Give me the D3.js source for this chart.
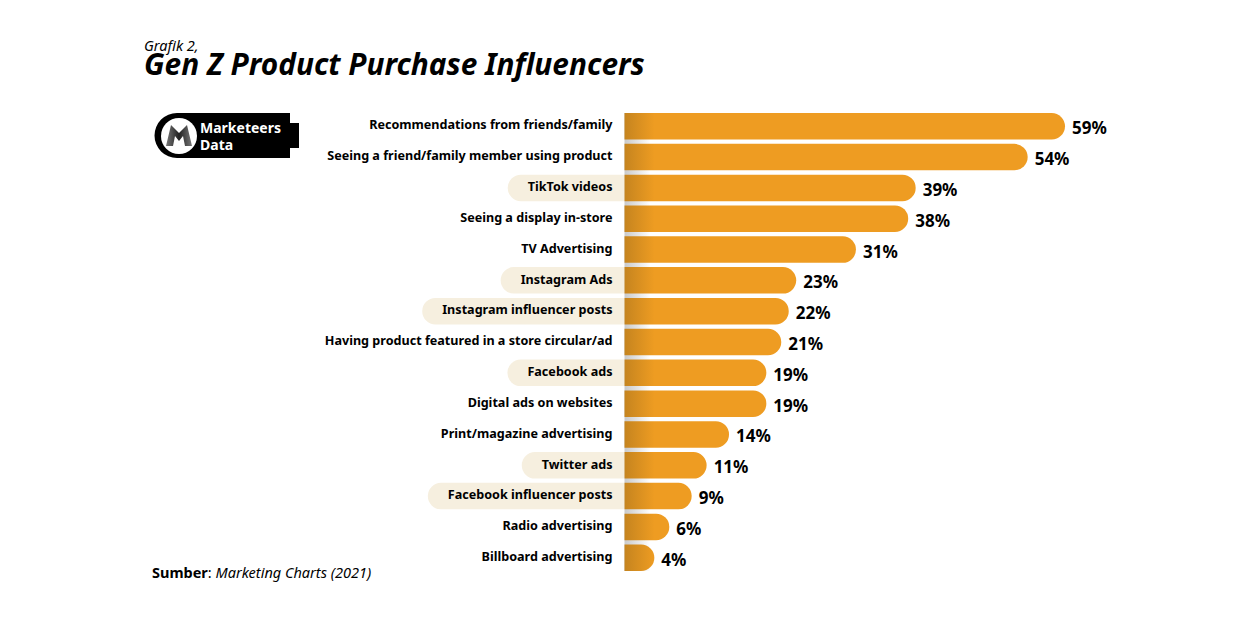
<!DOCTYPE html>
<html>
<head>
<meta charset="utf-8">
<script src="https://cdn.jsdelivr.net/npm/d3@7"></script>
<style>
  html, body { margin: 0; background: #fff; }
  svg { display: block; }
  text { font-family: "Noto Sans", sans-serif; fill: #000; }
</style>
</head>
<body>
<svg id="chart" width="1250" height="625"></svg>
<script>
const categories = [
  "Recommendations from friends/family",
  "Seeing a friend/family member using product",
  "TikTok videos",
  "Seeing a display in-store",
  "TV Advertising",
  "Instagram Ads",
  "Instagram influencer posts",
  "Having product featured in a store circular/ad",
  "Facebook ads",
  "Digital ads on websites",
  "Print/magazine advertising",
  "Twitter ads",
  "Facebook influencer posts",
  "Radio advertising",
  "Billboard advertising"
];
const values = [59, 54, 39, 38, 31, 23, 22, 21, 19, 19, 14, 11, 9, 6, 4];
const socialCategories = [
  "TikTok videos", "Instagram Ads", "Instagram influencer posts",
  "Facebook ads", "Twitter ads", "Facebook influencer posts"
];

const svg = d3.select("#chart");
const x0 = 624.5;

const x = d3.scaleLinear().domain([0, 59]).range([x0, 1065]);
const y = d3.scaleBand().domain(categories).range([113, 571]).paddingInner(0.14);

// gradient for the dark left edge of the bars
const defs = svg.append("defs");
const grad = defs.append("linearGradient")
  .attr("id", "barFill")
  .attr("gradientUnits", "userSpaceOnUse")
  .attr("x1", x0).attr("x2", x0 + 30).attr("y1", 0).attr("y2", 0);
grad.append("stop").attr("offset", 0).attr("stop-color", "#c5841f");
grad.append("stop").attr("offset", 1).attr("stop-color", "#ee9c22");

const shade = defs.append("linearGradient").attr("id", "gapFill");
shade.append("stop").attr("offset", 0).attr("stop-color", "#c9c9c9");
shade.append("stop").attr("offset", 1).attr("stop-color", "#ffffff");

const logoGrad = defs.append("linearGradient").attr("id", "logoFill");
logoGrad.append("stop").attr("offset", 0).attr("stop-color", "#777");
logoGrad.append("stop").attr("offset", 0.5).attr("stop-color", "#222");
logoGrad.append("stop").attr("offset", 1).attr("stop-color", "#777");

// heading
svg.append("text").attr("x", 144).attr("y", 51)
  .style("font-size", "14.5px").style("font-style", "italic")
  .text("Grafik 2,");
svg.append("text").attr("x", 144).attr("y", 75)
  .style("font-size", "29.8px").style("font-style", "italic").style("font-weight", 700)
  .text("Gen Z Product Purchase Influencers");

// logo
const logo = svg.append("g");
logo.append("path")
  .attr("d", "M177 113H290V123H299V148H290V158H177A22.5 22.5 0 0 1 177 113Z")
  .attr("fill", "#000");
logo.append("circle").attr("cx", 179).attr("cy", 136).attr("r", 18).attr("fill", "#fff");
logo.append("path")
  .attr("d", "M171 125L179 133L187 125L192 146H185L183 136L179 141L175 136L173 146H166Z")
  .attr("fill", "url(#logoFill)");
logo.append("text").attr("x", 200).attr("y", 133)
  .style("font-size", "14px").style("font-weight", 700).style("fill", "#fff")
  .text("Marketeers");
logo.append("text").attr("x", 200).attr("y", 150)
  .style("font-size", "14px").style("font-weight", 700).style("fill", "#fff")
  .text("Data");

// soft shadow showing through the gaps between bars
svg.append("rect")
  .attr("x", x0).attr("y", y(categories[0]))
  .attr("width", 26).attr("height", 458)
  .attr("fill", "url(#gapFill)");

// category labels
const axis = svg.append("g")
  .attr("transform", "translate(612.5,-0.8)")
  .call(d3.axisLeft(y).tickSize(0).tickPadding(0));
axis.select(".domain").remove();
axis.selectAll("text")
  .style("font-size", "12.6px").style("font-weight", 700).style("fill", "#000");

// pills behind the social media categories, sized from the label text
const labelWidth = {};
axis.selectAll(".tick text").each(function (d) {
  labelWidth[d] = this.getComputedTextLength();
});
const pillPath = d => {
  const r = y.bandwidth() / 2;
  const left = x0 - 12 - labelWidth[d] - 20;
  return `M${x0} ${y(d)}H${left + r}A${r} ${r} 0 0 0 ${left + r} ${y(d) + 2 * r}H${x0}Z`;
};
svg.insert("g", "g:nth-of-type(2)")
  .selectAll("path")
  .data(socialCategories)
  .join("path")
  .attr("d", pillPath)
  .attr("fill", "#f6efdf");

// bars, square on the left and round on the right
const barPath = (d, i) => {
  const r = y.bandwidth() / 2;
  const top = y(categories[i]);
  const end = x(d);
  return `M${x0} ${top}H${end - r}A${r} ${r} 0 0 1 ${end - r} ${top + 2 * r}H${x0}Z`;
};
svg.append("g")
  .selectAll("path")
  .data(values)
  .join("path")
  .attr("d", barPath)
  .attr("fill", "url(#barFill)");

// value labels
svg.append("g")
  .selectAll("text")
  .data(values)
  .join("text")
  .attr("x", d => x(d) + 7)
  .attr("y", (d, i) => y(categories[i]) + y.bandwidth() / 2 + 8)
  .style("font-size", "17px").style("font-weight", 700)
  .text(d => `${d}%`);

// source
const source = svg.append("text").attr("x", 152).attr("y", 578).style("font-size", "14.5px");
source.append("tspan").style("font-weight", 700).text("Sumber");
source.append("tspan").text(": ");
source.append("tspan").style("font-style", "italic").text("Marketing Charts (2021)");
</script>
</body>
</html>
